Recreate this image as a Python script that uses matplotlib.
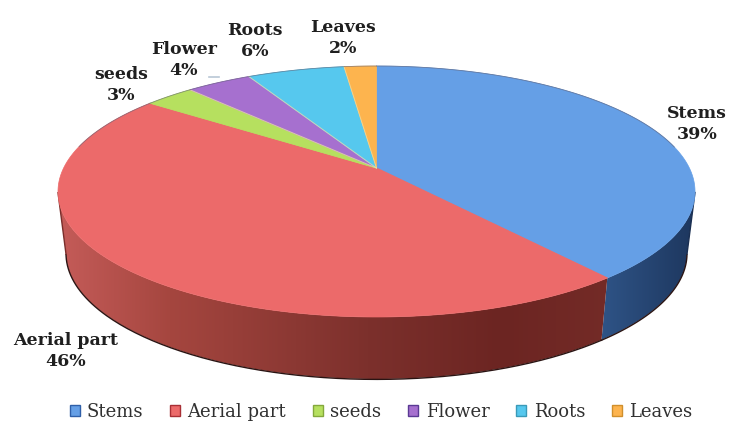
import numpy as np
import matplotlib
matplotlib.use("Agg")
import matplotlib.pyplot as plt
from matplotlib.patches import Polygon, Patch
from matplotlib.colors import to_rgb

categories = ["Stems", "Aerial part", "seeds", "Flower", "Roots", "Leaves"]
values = [39, 46, 3, 4, 6, 2]
colors = ["#659fe6", "#ec6a6a", "#b6e05f", "#a670cf", "#56c8ee", "#fdb44e"]
legend_edges = ["#2f5fa8", "#a82f35", "#84a83c", "#5a3a94", "#3a9ab8", "#d08f2c"]
label_xy = [(697, 124), (66, 351), (121, 85), (184, 60), (255, 41), (343, 38)]

# projected pie geometry (pixels)
CX, CY, RX, RY = 376.5, 191.5, 318.5, 125.5
BX, BY, BRX, BRY = 376.5, 253, 310.5, 126
APEX = 0.187  # perspective shift of the pie centre, in radii

fig = plt.figure(figsize=(7.36, 4.21), dpi=100, facecolor="white")
ax = fig.add_axes([0, 0, 1, 1])


def rim(theta):
    """Unit-circle point reached from the shifted apex at pie angle theta."""
    dx, dy = np.sin(theta), np.cos(theta)
    pd = APEX * dy
    t = -pd + np.sqrt(pd ** 2 + 1 - APEX ** 2)
    return dx * t, APEX + dy * t


side_stops = {
    0: [(600, "#2f5487"), (690, "#1e3860")],
    1: [(58, "#c55c59"), (170, "#a5463f"), (368, "#7c302c"), (500, "#6c2522"), (612, "#742b27")],
}


def gradient(stops):
    xs, cs = zip(*stops)
    cs = np.array([to_rgb(c) for c in cs])
    grid = np.arange(0, 736)
    return np.stack([np.interp(grid, xs, cs[:, i]) for i in range(3)], axis=-1)[None, :, :]


fractions = np.cumsum([0] + values) / sum(values)
for i, (start, end) in enumerate(zip(fractions[:-1], fractions[1:])):
    th = np.linspace(start, end, 240) * 2 * np.pi
    ux, uy = rim(th)
    if i in side_stops:
        front = uy <= 0
        tx, ty = CX + RX * ux[front], CY - RY * uy[front]
        bx, by = BX + BRX * ux[front], BY - BRY * uy[front]
        wall = Polygon(np.r_[np.c_[tx, ty], np.c_[bx, by][::-1]], transform=ax.transData, fc="none", ec="none")
        ax.add_patch(wall)
        im = ax.imshow(gradient(side_stops[i]), extent=(0, 736, 421, 0), aspect="auto", zorder=1,
                       interpolation="bilinear")
        im.set_clip_path(wall)
        ax.plot(bx, by + 0.4, color="#2a1413", lw=1.0, zorder=2)
        if i == 1:
            ax.plot([tx[-1], bx[-1]], [ty[-1], by[-1]], color="#7a2e2b", lw=1.0, zorder=2)
        if i == 0:
            ax.plot([tx[0], bx[0]], [ty[0], by[0]], color="#1a2f52", lw=1.0, zorder=2)

for i, (start, end) in enumerate(zip(fractions[:-1], fractions[1:])):
    th = np.linspace(start, end, 240) * 2 * np.pi
    ux, uy = rim(th)
    pts = [(CX, CY - RY * APEX)] + list(zip(CX + RX * ux, CY - RY * uy))
    ax.add_patch(Polygon(pts, fc=colors[i], ec=colors[i], lw=0.5, zorder=3))
    ax.plot([CX, pts[1][0]], [CY - RY * APEX, pts[1][1]],
            color="#f0e0a8" if i in (3, 4, 5) else colors[i], lw=0.7, alpha=0.7, zorder=4)
    back = uy > 0.35
    ax.plot((CX + RX * ux)[back], (CY - RY * uy)[back], color="#5a5a70", lw=0.6, alpha=0.6, zorder=4)

# leader stub near the Flower label
ax.plot([209, 219], [77, 77], color="#b9c7d6", lw=1.2, zorder=5)

for name, v, (x, y) in zip(categories, values, label_xy):
    ax.text(x, y, f"{name}\n{v}%", ha="center", va="center", family="DejaVu Serif",
            weight="bold", fontsize=12.5, color="#1f1f1f", linespacing=1.3, zorder=6)

handles = [Patch(fc=c, ec=e, lw=1.0) for c, e in zip(colors, legend_edges)]
ax.legend(handles, categories, loc="center", bbox_to_anchor=(381 / 736, 1 - 412 / 421),
          ncol=6, frameon=False, prop={"family": "DejaVu Serif", "size": 13},
          handlelength=0.55, handleheight=0.55, handletextpad=0.4, columnspacing=1.5,
          labelcolor="#303030", borderpad=0)

ax.set_xlim(0, 736)
ax.set_ylim(421, 0)
ax.axis("off")
fig.savefig("out.png", dpi=100, facecolor="white")
